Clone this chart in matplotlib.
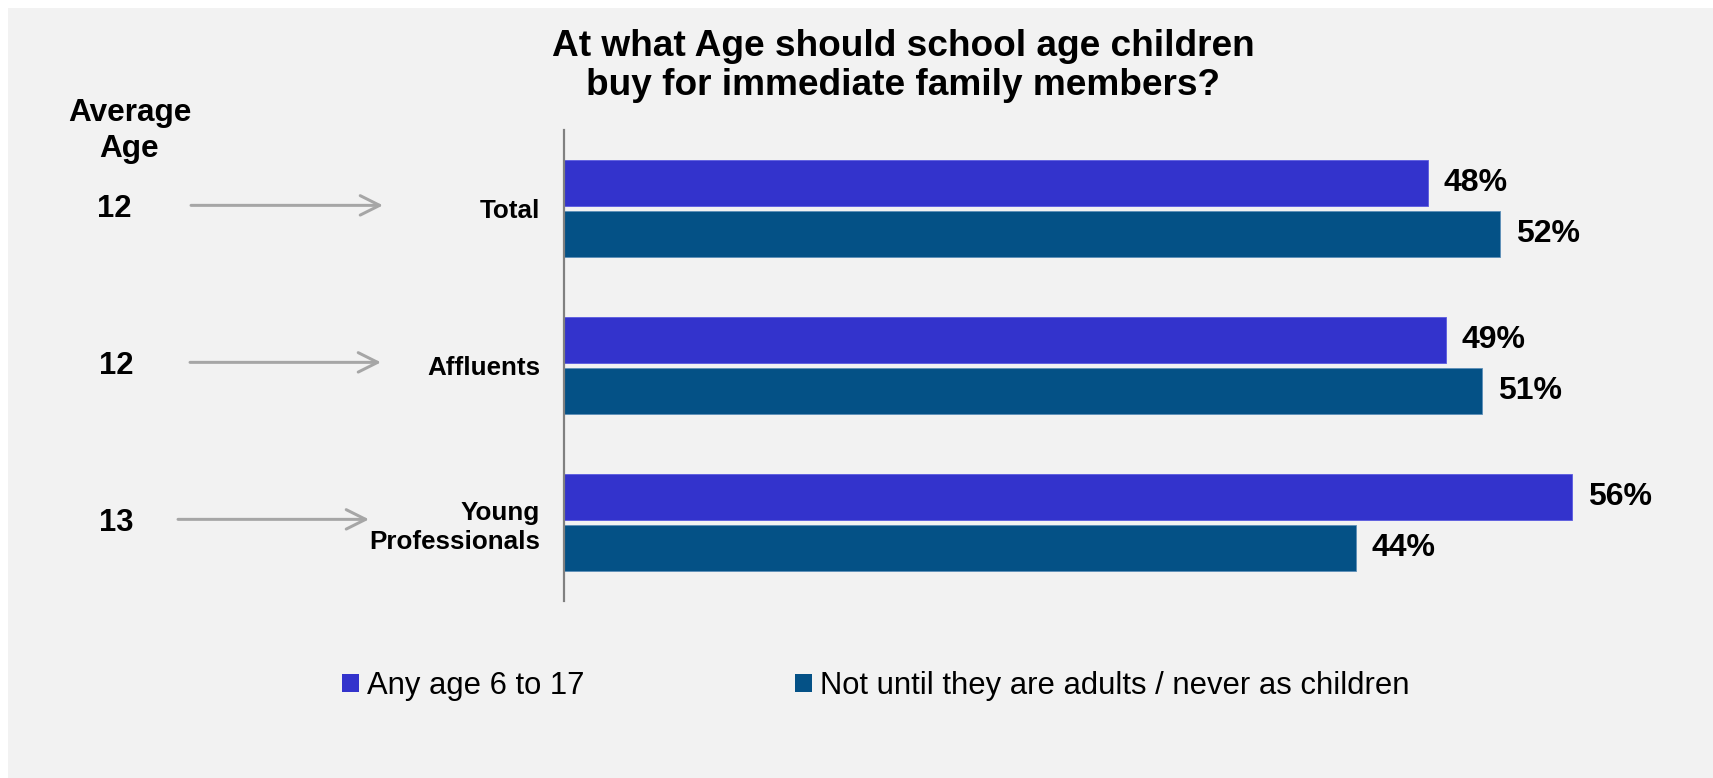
import matplotlib
matplotlib.use("Agg")
import matplotlib.pyplot as plt
from matplotlib.patches import Rectangle, Patch
from matplotlib.transforms import blended_transform_factory
import numpy as np

# ---- data ----
categories = ["Total", "Affluents", "Young\nProfessionals"]
any_age = [48, 49, 56]
not_until = [52, 51, 44]
avg_age = [12, 12, 13]
series_labels = ["Any age 6 to 17", "Not until they are adults / never as children"]
title = "At what Age should school age children\nbuy for immediate family members?"
avg_header = "Average\nAge"

# ---- style ----
plt.rcParams['font.family'] = ['Liberation Sans', 'DejaVu Sans']
W, H, DPI = 1713, 778, 100
C_BLUE = "#3333CC"
C_DARK = "#045186"
BG = "#F2F2F2"
ARROW_C = "#A6A6A6"

def px(v):  # pixels -> points
    return v * 72.0 / DPI

fig = plt.figure(figsize=(W / DPI, H / DPI), dpi=DPI, facecolor="white")
fig.patches.append(Rectangle((8 / W, 0), 1 - 8 / W, (H - 8) / H,
                             transform=fig.transFigure, facecolor=BG,
                             edgecolor="none", zorder=-10))

# axes: left at x=564px, top at y=130px, bottom at y=601px
ax_left, ax_top, ax_bot = 564, 130, 601
ax = fig.add_axes([ax_left / W, 1 - ax_bot / H, (W - ax_left) / W, (ax_bot - ax_top) / H])
ax.set_facecolor("none")
ax.set_xlim(0, (W - ax_left) / 18.0)
ax.set_ylim(2.5, -0.5)

y = np.arange(len(categories))
bh = 0.293
off = 0.1635
ax.barh(y - off, any_age, height=bh, color=C_BLUE, edgecolor="#5a5ae0", linewidth=0.6)
ax.barh(y + off, not_until, height=bh, color=C_DARK, edgecolor="#5d8fb8", linewidth=0.6)

for yy, v in zip(y - off, any_age):
    ax.annotate(f"{v}%", (v, yy), xytext=(px(16), 0), textcoords="offset points",
                ha="left", va="center", fontsize=px(32), fontweight="bold")
for yy, v in zip(y + off, not_until):
    ax.annotate(f"{v}%", (v, yy), xytext=(px(16), 0), textcoords="offset points",
                ha="left", va="center", fontsize=px(32), fontweight="bold")

for s in ["top", "right", "bottom"]:
    ax.spines[s].set_visible(False)
ax.spines["left"].set_color("#808080")
ax.spines["left"].set_linewidth(px(2.2))
ax.set_xticks([])
ax.set_yticks(y)
ax.set_yticklabels(categories, fontsize=px(26), fontweight="bold", linespacing=1.25)
ax.tick_params(axis="y", length=0, pad=px(24))

# left-side: average age and arrows
tr = blended_transform_factory(fig.transFigure, ax.transData)
fig.text(129.5 / W, 1 - 131 / H, avg_header, ha="center", va="center",
         fontsize=px(31.5), fontweight="bold", linespacing=1.3)
num_x = [114, 116, 116]
arr_x0 = [191, 190, 178]
arr_x1 = [383, 381, 369]
for i, a in enumerate(avg_age):
    fig.text(num_x[i] / W, y[i], str(a), transform=tr, ha="center", va="center",
             fontsize=px(31), fontweight="bold")
    ax.annotate("", xy=(arr_x1[i] / W, y[i] - 0.02), xycoords=tr,
                xytext=(arr_x0[i] / W, y[i] - 0.02), textcoords=tr,
                arrowprops=dict(arrowstyle="->,head_length=1.4,head_width=0.7",
                                color=ARROW_C, lw=px(3), shrinkA=0, shrinkB=0),
                annotation_clip=False)

# title
fig.text(903 / W, 1 - 66 / H, title, ha="center", va="center",
         fontsize=px(37), fontweight="bold", linespacing=1.15)

# legend
handles = [Patch(facecolor=C_BLUE, edgecolor="none"), Patch(facecolor=C_DARK, edgecolor="none")]
fig.legend(handles, series_labels, loc="center left",
           bbox_to_anchor=(342 / W, 1 - 686 / H), ncol=2, frameon=False,
           prop=dict(size=px(31)), handlelength=0.55, handleheight=0.55,
           handletextpad=0.25, columnspacing=6.8, borderpad=0, borderaxespad=0)

fig.savefig("out.png", dpi=DPI, facecolor=fig.get_facecolor())
